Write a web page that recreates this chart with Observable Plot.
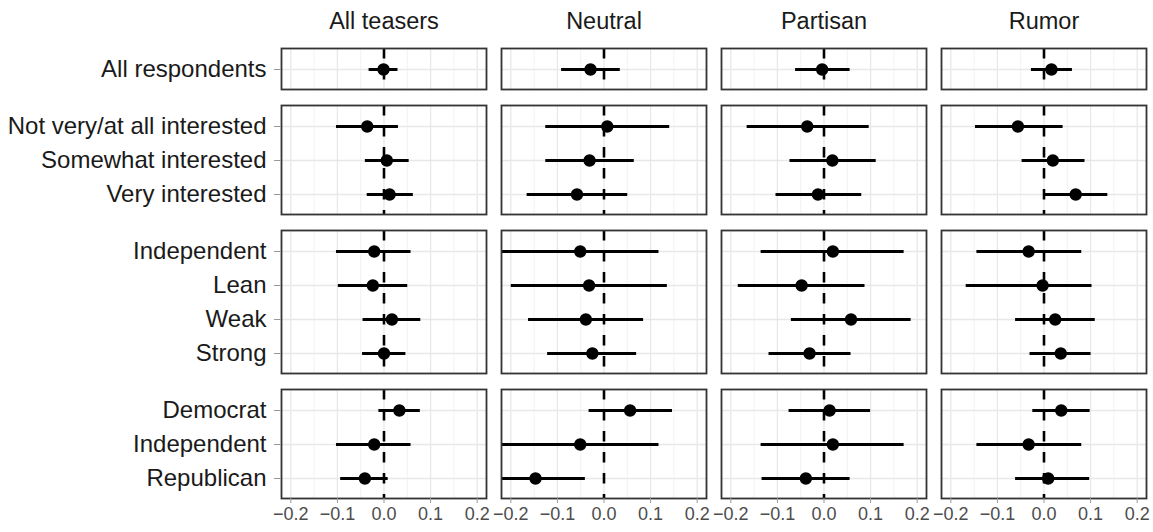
<!DOCTYPE html>
<html><head><meta charset="utf-8">
<script src="https://cdn.jsdelivr.net/npm/d3@7"></script>
<script src="https://cdn.jsdelivr.net/npm/@observablehq/plot@0.6"></script>
<style>
body{margin:0;background:#fff;}
#chart svg{display:block;}
</style>
</head><body><div id="chart"></div>
<script>
const panelTitles = ["All teasers", "Neutral", "Partisan", "Rumor"];
const rowLabels = ["All respondents", "Not very/at all interested", "Somewhat interested", "Very interested",
  "Independent", "Lean", "Weak", "Strong", "Democrat", "Independent", "Republican"];
const rowGroup = [0, 1, 1, 1, 2, 2, 2, 2, 3, 3, 3];

const estAllTeasers  = [-0.001, -0.036, 0.006, 0.012, -0.021, -0.024, 0.017, 0.000, 0.033, -0.021, -0.041];
const lowAllTeasers  = [-0.032, -0.102, -0.040, -0.036, -0.102, -0.098, -0.045, -0.046, -0.011, -0.102, -0.093];
const highAllTeasers = [0.030, 0.031, 0.054, 0.063, 0.058, 0.051, 0.079, 0.047, 0.078, 0.058, 0.009];

const estNeutral  = [-0.029, 0.007, -0.031, -0.058, -0.051, -0.032, -0.039, -0.025, 0.056, -0.051, -0.147];
const lowNeutral  = [-0.091, -0.125, -0.125, -0.165, -0.235, -0.199, -0.162, -0.121, -0.032, -0.235, -0.254];
const highNeutral = [0.035, 0.141, 0.065, 0.051, 0.118, 0.136, 0.085, 0.070, 0.147, 0.118, -0.040];

const estPartisan  = [-0.004, -0.036, 0.018, -0.013, 0.019, -0.048, 0.058, -0.031, 0.012, 0.019, -0.039];
const lowPartisan  = [-0.061, -0.165, -0.073, -0.103, -0.135, -0.184, -0.070, -0.118, -0.075, -0.135, -0.133];
const highPartisan = [0.056, 0.097, 0.112, 0.081, 0.172, 0.088, 0.187, 0.058, 0.100, 0.172, 0.056];

const estRumor  = [0.016, -0.056, 0.019, 0.068, -0.033, -0.003, 0.024, 0.036, 0.037, -0.033, 0.009];
const lowRumor  = [-0.027, -0.147, -0.047, 0.002, -0.144, -0.167, -0.061, -0.030, -0.024, -0.144, -0.061];
const highRumor = [0.061, 0.041, 0.088, 0.137, 0.081, 0.103, 0.110, 0.101, 0.099, 0.081, 0.098];

const xTicks = [-0.2, -0.1, 0, 0.1, 0.2];
const xMinorTicks = [-0.15, -0.05, 0.05, 0.15];

const seriesByPanel = [
  [estAllTeasers, lowAllTeasers, highAllTeasers],
  [estNeutral, lowNeutral, highNeutral],
  [estPartisan, lowPartisan, highPartisan],
  [estRumor, lowRumor, highRumor]
];

const rows = [];
panelTitles.forEach((col, c) => {
  const [est, lo, hi] = seriesByPanel[c];
  rowLabels.forEach((label, i) => {
    rows.push({col, group: rowGroup[i], label, est: est[i], lo: lo[i], hi: hi[i]});
  });
});

const FONT = "'Liberation Sans', Arial, Helvetica, sans-serif";
const unit = 34.1;
const nGroups = 4;
const chart = document.getElementById("chart");

for (let g = 0; g < nGroups; g++) {
  const isTop = g === 0, isBottom = g === nGroups - 1;
  const labels = rowLabels.filter((_, i) => rowGroup[i] === g);
  const data = rows.filter(d => d.group === g);
  const panelH = Math.round((labels.length + 0.2) * unit);
  const mt = isTop ? 48 : 8;
  const mb = isBottom ? 35 : 8;
  const marks = [
    Plot.ruleX(xMinorTicks, {stroke: "#f0f0f0", strokeWidth: 0.9}),
    Plot.ruleX(xTicks, {stroke: "#e8e8e8", strokeWidth: 1.3}),
    Plot.ruleY(labels, {stroke: "#e8e8e8", strokeWidth: 1.3}),
    Plot.ruleX([0], {stroke: "black", strokeWidth: 2.6, strokeDasharray: "10.5,10.5"}),
    Plot.ruleY(data, {fx: "col", y: "label", x1: "lo", x2: "hi", stroke: "black", strokeWidth: 3, clip: true}),
    Plot.dot(data, {fx: "col", x: "est", y: "label", r: 6.2, fill: "black", stroke: "none"}),
    Plot.frame({stroke: "#333", strokeWidth: 1.8}),
    Plot.axisY({facetAnchor: "left", tickSize: 7, tickPadding: 8, fontSize: 24, label: null,
      stroke: "#999", fill: "#1a1a1a"})
  ];
  if (isTop) marks.push(Plot.axisFx({anchor: "top", tickSize: 0, tickPadding: 20, fontSize: 23.5,
    label: null, fill: "#1a1a1a"}));
  if (isBottom) marks.push(Plot.axisX({ticks: xTicks, tickFormat: d3.format(".1f"), tickSize: 5,
    tickPadding: 4, fontSize: 18, label: null, stroke: "#999", fill: "#4d4d4d"}));

  const svg = Plot.plot({
    width: 1153,
    height: mt + panelH + mb,
    marginLeft: 281,
    marginRight: 6,
    marginTop: mt,
    marginBottom: mb,
    style: {fontFamily: FONT, background: "white"},
    fx: {domain: panelTitles, paddingInner: 0.068, paddingOuter: 0, label: null, ...(isTop ? {} : {axis: null})},
    x: {domain: [-0.22, 0.22], label: null, ...(isBottom ? {} : {axis: null})},
    y: {type: "point", domain: labels, padding: 0.6, label: null},
    marks
  });
  chart.appendChild(svg);
}
</script>
</body></html>
